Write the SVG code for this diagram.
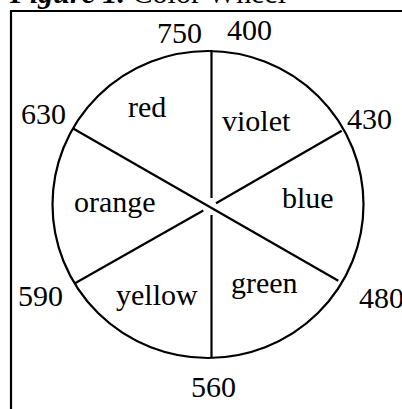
<svg xmlns="http://www.w3.org/2000/svg" width="402" height="409" viewBox="0 0 402 409">
<style>
text{font-family:"Liberation Serif","Times New Roman",serif;font-size:30px;fill:#000}
.ln{stroke:#000;stroke-width:2.2;fill:none;stroke-linecap:butt}
</style>
<rect width="402" height="409" fill="#fff"/>
<g id="title">
<text x="10" y="3"><tspan font-weight="bold" font-style="italic">Figure 1.</tspan> Color Wheel</text>
</g>
<g id="frame">
<path class="ln" d="M11 409 V11 H402"/>
</g>
<g id="wheel">
<ellipse class="ln" cx="208" cy="204.5" rx="155.5" ry="153.5"/>
</g>
<g id="connectors">
<line class="ln" x1="211.5" y1="50" x2="211.5" y2="198"/>
<line class="ln" x1="211.5" y1="215" x2="211.5" y2="358"/>
<line class="ln" x1="72.7" y1="128.3" x2="338.3" y2="280.7"/>
<line class="ln" x1="341.7" y1="130.7" x2="216" y2="203.3"/>
<line class="ln" x1="203.3" y1="210.5" x2="75" y2="283.3"/>
</g>
<g id="segment-labels">
<text x="128" y="117">red</text>
<text x="222" y="131">violet</text>
<text x="74" y="212">orange</text>
<text x="282" y="208">blue</text>
<text x="116" y="305">yellow</text>
<text x="231" y="293">green</text>
</g>
<g id="wavelengths">
<text x="157" y="43">750</text>
<text x="227" y="40">400</text>
<text x="21" y="123.5">630</text>
<text x="347" y="128.5">430</text>
<text x="18" y="306">590</text>
<text x="359" y="308">480</text>
<text x="191" y="397">560</text>
</g>
</svg>
